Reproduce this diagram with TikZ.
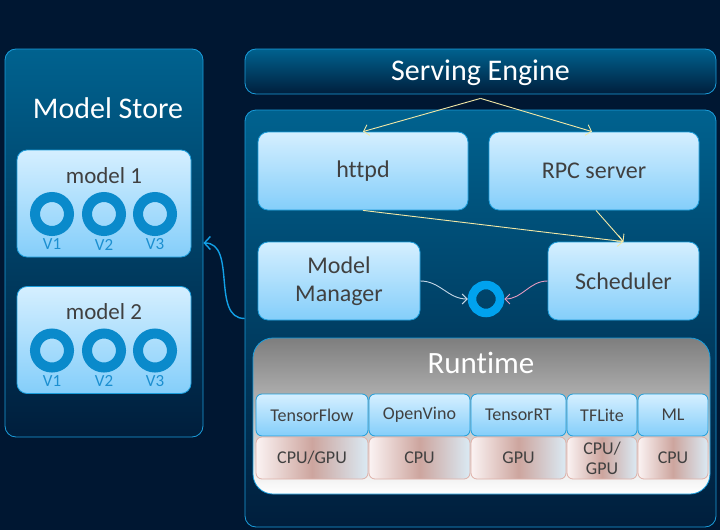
\documentclass[tikz,border=0pt]{standalone}
\usepackage{fontspec}
\setmainfont{Carlito}[Ligatures=CommonOff]
\usetikzlibrary{arrows.meta}
\definecolor{bg}{RGB}{0,23,50}
\definecolor{edge}{RGB}{27,157,219}
\definecolor{deeptop}{RGB}{0,98,143}
\definecolor{deepbot}{RGB}{0,30,60}
\definecolor{lighttop}{RGB}{213,239,255}
\definecolor{lightbot}{RGB}{132,206,250}
\definecolor{txt}{RGB}{64,64,64}
\definecolor{ringblue}{RGB}{10,138,203}
\definecolor{vblue}{RGB}{28,143,208}
\definecolor{hubblue}{RGB}{0,162,238}
\definecolor{flowyellow}{RGB}{242,232,166}
\definecolor{mgrline}{RGB}{196,214,230}
\definecolor{schedline}{RGB}{228,154,192}
\definecolor{linkblue}{RGB}{18,160,230}
\definecolor{rtgray}{RGB}{126,126,126}
\definecolor{devedge}{RGB}{222,176,168}
\definecolor{devleft}{RGB}{251,243,243}
\definecolor{devmid}{RGB}{205,165,158}
\definecolor{devright}{RGB}{218,234,244}
\begin{document}
\begin{tikzpicture}[x=1pt, y=-1pt,
	dark box/.style={draw=edge, line width=0.8pt, rounded corners=11pt, top color=deeptop, bottom color=deepbot, text=white},
	light box/.style={draw=edge, line width=0.8pt, rounded corners=10pt, top color=lighttop, bottom color=lightbot, text=txt, align=center, font=\fontsize{24}{28}\selectfont},
	unit box/.style={light box, rounded corners=6pt, inner sep=1pt, font=\fontsize{18}{20}\selectfont},
	dev box/.style={draw=devedge, line width=0.8pt, rounded corners=6pt, left color=devleft, right color=devright, middle color=devmid, text=txt, align=center, inner sep=1pt, font=\fontsize{18}{20}\selectfont},
	ring/.style={circle, draw=ringblue, line width=10pt, minimum size=34pt, inner sep=0pt},
	version/.style={text=vblue, font=\fontsize{17}{19}\selectfont},
	title/.style={text=white, font=\fontsize{30}{34}\selectfont},
	flow/.style={draw=flowyellow, line width=0.9pt, -{Straight Barb[length=5pt,width=11pt]}}]
	%\draw[help lines] (0,0) grid (720,530);
		\fill[bg] (0,0) rectangle (720,530);
		\useasboundingbox (0,0) rectangle (720,530);
		% model store
		\node[dark box, minimum width=198pt, minimum height=388pt] (store) at (104,243) {};
		\node[title] (storelabel) at (108,108) {Model Store};
		\foreach \m/\y in {1/203.5, 2/340}{
		  \node[light box, minimum width=174pt, minimum height=107pt] (model\m) at (104,\y) {};
		  \node[text=txt, font=\fontsize{23}{26}\selectfont] (modellabel\m) at (104,\y-28) {model \m};
		  \foreach \v/\x in {1/52, 2/104, 3/155}{
		      \node[ring] (ring\m\v) at (\x,\y+10.5) {};
		      \node[version] (v\m\v) at (\x,\y+41) {V\v};
		  }}
		% serving engine
		\node[dark box, minimum width=471pt, minimum height=45pt] (engine) at (480.5,71.5) {};
		\node[title] (enginelabel) at (480.5,73) {Serving Engine};
		\node[dark box, minimum width=471pt, minimum height=417pt] (main) at (480.5,318.5) {};
		\node[light box, minimum width=210pt, minimum height=78pt] (httpd) at (363,171) {httpd};
		\node[light box, minimum width=210pt, minimum height=78pt] (rpc) at (594,171) {RPC server};
		\node[light box, minimum width=162pt, minimum height=78pt] (manager) at (339,281) {Model\\Manager};
		\node[light box, minimum width=151pt, minimum height=78pt] (scheduler) at (623.5,281) {Scheduler};
		\node[circle, draw=hubblue, line width=8.5pt, minimum size=28pt, inner sep=0pt] (hub) at (486,299) {};
		% runtime
		\node[draw=edge, line width=0.8pt, rounded corners=20pt, top color=rtgray, bottom color=white, minimum width=457pt, minimum height=156pt] (runtime) at (481.5,416) {};
		\node[text=white, font=\fontsize{31}{35}\selectfont] (rtlabel) at (481,363) {Runtime};
		\foreach \n/\cx/\w/\eng/\dev in {tf/312/112/TensorFlow/{CPU/GPU}, ov/419.5/101/OpenVino/CPU, trt/518.5/95/TensorRT/GPU, lite/602/70/TFLite/{CPU/\\GPU}, ml/673/70/ML/CPU}{
		  \node[unit box, minimum width=\w pt, minimum height=42pt] (\n) at (\cx,415) {\eng};
		  \node[dev box, minimum width=\w pt, minimum height=42pt] (\n dev) at (\cx,458) {\dev};
		}
		% connectors
		\coordinate (fork) at ([yshift=-4pt]engine.south);
		\draw[flow] (fork) -- (httpd.north);
		\draw[flow] (fork) -- ([xshift=-2pt]rpc.north);
		\draw[flow] (httpd.south) -- (scheduler.north);
		\draw[flow] ([xshift=2pt]rpc.south) -- (scheduler.north);
		\draw[mgrline, line width=0.9pt, -{Straight Barb[length=5pt,width=10pt]}] (manager.east) to[out=0, in=180] (hub.west);
		\draw[schedline, line width=0.9pt, -{Straight Barb[length=5pt,width=10pt]}] (scheduler.west) to[out=180, in=0] (hub.east);
		\draw[linkblue, line width=1.4pt, -{Straight Barb[length=6pt,width=13pt]}] (main.west) to[out=180, in=0] (store.east);
	\end{tikzpicture}
\end{document}
